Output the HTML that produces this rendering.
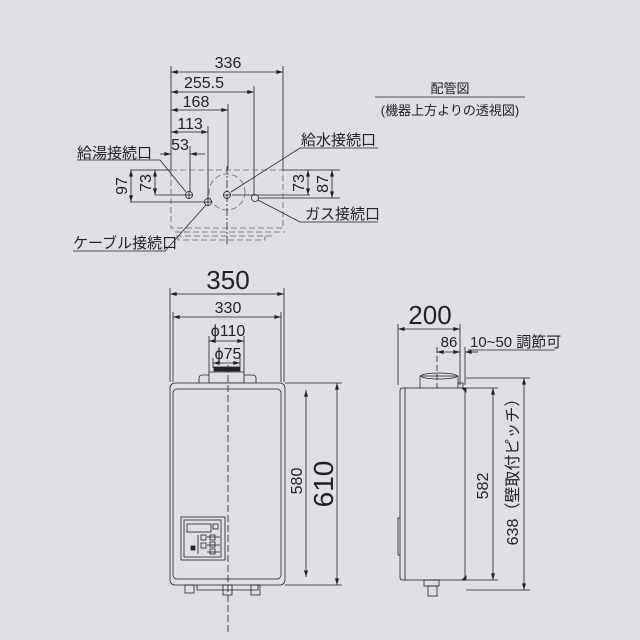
<!DOCTYPE html>
<html><head><meta charset="utf-8"><style>
html,body{margin:0;padding:0;background:#dde1e6;}
svg{display:block}
text{font-family:"Liberation Sans","Noto Sans CJK JP",sans-serif;fill:#222}
</style></head><body>
<svg width="640" height="640" viewBox="0 0 640 640" xmlns="http://www.w3.org/2000/svg">
<defs>
<marker id="a" viewBox="0 0 10 6" refX="10" refY="3" markerWidth="7" markerHeight="4" orient="auto-start-reverse" markerUnits="userSpaceOnUse"><path d="M0,0L10,3L0,6z" fill="#222"/></marker>
</defs>
<rect width="640" height="640" fill="#dde1e6"/>
<g stroke="#222" stroke-width="0.8" fill="none">
<!-- top plan extension lines -->
<line x1="171" y1="66" x2="171" y2="170"/>
<line x1="283" y1="66" x2="283" y2="170"/>
<line x1="254" y1="86" x2="254" y2="195"/>
<line x1="228" y1="104" x2="228" y2="170"/>
<line x1="208" y1="126" x2="208" y2="200"/>
<line x1="190" y1="146" x2="190" y2="192"/>
<line x1="171" y1="72" x2="283" y2="72" marker-start="url(#a)" marker-end="url(#a)"/>
<line x1="171" y1="92" x2="254" y2="92" marker-start="url(#a)" marker-end="url(#a)"/>
<line x1="171" y1="110" x2="228" y2="110" marker-start="url(#a)" marker-end="url(#a)"/>
<line x1="171" y1="132" x2="208" y2="132" marker-start="url(#a)" marker-end="url(#a)"/>
<line x1="160" y1="154" x2="171" y2="154" marker-end="url(#a)"/>
<line x1="205" y1="154" x2="190" y2="154" marker-end="url(#a)"/>
<!-- height lines -->
<line x1="130" y1="170" x2="171" y2="170"/>
<line x1="283" y1="170" x2="340" y2="170"/>
<line x1="155" y1="195" x2="186" y2="195"/>
<line x1="130" y1="202" x2="204" y2="202"/>
<line x1="232" y1="195" x2="310" y2="195"/>
<line x1="259" y1="198" x2="340" y2="198"/>
<line x1="155" y1="170" x2="155" y2="195" marker-start="url(#a)" marker-end="url(#a)"/>
<line x1="131" y1="170" x2="131" y2="202" marker-start="url(#a)" marker-end="url(#a)"/>
<line x1="308" y1="170" x2="308" y2="195" marker-start="url(#a)" marker-end="url(#a)"/>
<line x1="332" y1="170" x2="332" y2="198" marker-start="url(#a)" marker-end="url(#a)"/>
<!-- dashed outline -->
<g stroke="#666" stroke-dasharray="6,3">
<path d="M171,170H283V228H171Z"/>
<path d="M175,232H285M176,236H274"/>
<path d="M178,236V240H265V236"/>
<circle cx="227" cy="192" r="18"/>
</g>
<line x1="227" y1="166" x2="227" y2="244" stroke-dasharray="8,2,2,2"/>
<circle cx="189" cy="195" r="3.5"/><line x1="185" y1="195" x2="193" y2="195"/><line x1="189" y1="191" x2="189" y2="199"/>
<circle cx="227" cy="195" r="3.5"/><line x1="223" y1="195" x2="231" y2="195"/>
<circle cx="208" cy="202" r="3.5"/><line x1="204" y1="202" x2="212" y2="202"/><line x1="208" y1="198" x2="208" y2="206"/>
<circle cx="255" cy="198" r="3.5"/>
<!-- leaders -->
<polyline points="77,160 160,160 186,192" />
<polyline points="378,148 300,148 231,192" />
<polyline points="378,222 300,222 258,200" />
<polyline points="73,251 165,251 206,205" />
<line x1="375" y1="97" x2="525" y2="97"/>
</g>
<g font-size="16">
<text x="228" y="68" text-anchor="middle">336</text>
<text x="204" y="88" text-anchor="middle">255.5</text>
<text x="196" y="107" text-anchor="middle">168</text>
<text x="190" y="129" text-anchor="middle">113</text>
<text x="180" y="150" text-anchor="middle">53</text>
<text x="77" y="158" font-size="15">給湯接続口</text>
<text x="301" y="145" font-size="15">給水接続口</text>
<text x="305" y="219" font-size="15">ガス接続口</text>
<text x="73" y="248" font-size="15">ケーブル接続口</text>
<text transform="translate(127,186) rotate(-90)" text-anchor="middle">97</text>
<text transform="translate(151,183) rotate(-90)" text-anchor="middle">73</text>
<text transform="translate(304,183) rotate(-90)" text-anchor="middle">73</text>
<text transform="translate(328,184) rotate(-90)" text-anchor="middle">87</text>
</g>
<text x="450" y="93" font-size="13" text-anchor="middle">配管図</text>
<text x="450" y="115" font-size="13" text-anchor="middle">(機器上方よりの透視図)</text>

<!-- front view -->
<g stroke="#222" stroke-width="0.8" fill="none">
<line x1="170" y1="288" x2="170" y2="382"/>
<line x1="284" y1="288" x2="284" y2="382"/>
<line x1="173" y1="312" x2="173" y2="382"/>
<line x1="281" y1="312" x2="281" y2="382"/>
<line x1="170" y1="294" x2="284" y2="294" marker-start="url(#a)" marker-end="url(#a)"/>
<line x1="173" y1="317" x2="281" y2="317" marker-start="url(#a)" marker-end="url(#a)"/>
<line x1="209" y1="336" x2="209" y2="372"/><line x1="244" y1="336" x2="244" y2="372"/>
<line x1="213" y1="358" x2="213" y2="368"/><line x1="240" y1="358" x2="240" y2="368"/>
<line x1="209" y1="341" x2="244" y2="341" marker-start="url(#a)" marker-end="url(#a)"/>
<line x1="213" y1="363" x2="240" y2="363" marker-start="url(#a)" marker-end="url(#a)"/>
<rect x="214" y="367" width="26" height="4" fill="#222"/>
<path d="M209,372H244V383H209Z"/>
<path d="M199,383V378Q199,375 203,375H209M244,375H252Q256,375 256,378V383"/>
<rect x="170" y="383" width="115" height="202" rx="5" fill="#dde1e6"/>
<rect x="173" y="389" width="108" height="190" rx="4"/>
<rect x="181" y="517" width="44" height="43"/>
<rect x="184" y="520" width="37" height="37"/>
<rect x="187" y="524" width="24" height="8"/>
<rect x="213" y="524" width="5" height="5"/>
<line x1="198" y1="535" x2="198" y2="554"/>
<rect x="201" y="535" width="5" height="5"/><rect x="201" y="543" width="5" height="5"/>
<rect x="210" y="535" width="5" height="5"/><rect x="210" y="542" width="5" height="5"/><rect x="210" y="549" width="5" height="5"/>
<line x1="207" y1="537" x2="220" y2="537"/><line x1="207" y1="545" x2="220" y2="545"/><line x1="207" y1="552" x2="220" y2="552"/>
<rect x="191" y="546" width="4" height="4" fill="#222"/>
<path d="M197,585V590H258V585"/>
<rect x="185" y="585" width="9" height="8"/><rect x="223" y="585" width="9" height="10"/><rect x="251" y="585" width="9" height="10"/>
<line x1="228" y1="365" x2="228" y2="633" stroke-dasharray="7,3"/>
<line x1="285" y1="383" x2="342" y2="383"/>
<line x1="285" y1="585" x2="342" y2="585"/>
<line x1="306" y1="390" x2="306" y2="577" marker-start="url(#a)" marker-end="url(#a)"/>
<line x1="337" y1="383" x2="337" y2="585" marker-start="url(#a)" marker-end="url(#a)"/>
</g>
<text x="228" y="289" font-size="26" text-anchor="middle">350</text>
<text x="228" y="313" font-size="16" text-anchor="middle">330</text>
<text x="228" y="336" font-size="16" text-anchor="middle">ϕ110</text>
<text x="228" y="359" font-size="16" text-anchor="middle">ϕ75</text>
<text transform="translate(302,481) rotate(-90)" font-size="16" text-anchor="middle">580</text>
<text transform="translate(333,484) rotate(-90)" font-size="28" text-anchor="middle">610</text>

<!-- side view -->
<g stroke="#222" stroke-width="0.8" fill="none">
<line x1="398" y1="324" x2="398" y2="385"/>
<line x1="460" y1="324" x2="460" y2="385"/>
<line x1="398" y1="329" x2="460" y2="329" marker-start="url(#a)" marker-end="url(#a)"/>
<line x1="437" y1="347" x2="437" y2="388" stroke-dasharray="6,3"/>
<line x1="465" y1="347" x2="465" y2="385"/>
<line x1="437" y1="352" x2="460" y2="352" marker-start="url(#a)" marker-end="url(#a)"/>
<line x1="478" y1="352" x2="465" y2="352" marker-end="url(#a)"/>
<line x1="468" y1="350" x2="555" y2="350"/>
<path d="M420,388V376H458V388"/>
<ellipse cx="439" cy="376" rx="18" ry="3"/>
<path d="M458,383H463V388"/>
<rect x="405" y="388" width="60" height="192" fill="#dde1e6"/>
<path d="M405,388H402Q400,388 400,391V577Q400,580 402,580H405"/>
<path d="M400,518H398V555H400"/>
<path d="M462,388H466V392Z" fill="#222"/>
<path d="M462,580H466V576Z" fill="#222"/>
<rect x="424" y="580" width="15" height="6"/><rect x="428" y="586" width="9" height="10"/>
<line x1="466" y1="378" x2="530" y2="378"/>
<line x1="466" y1="388" x2="498" y2="388"/>
<line x1="466" y1="580" x2="498" y2="580"/>
<line x1="466" y1="590" x2="530" y2="590"/>
<line x1="493" y1="388" x2="493" y2="580" marker-start="url(#a)" marker-end="url(#a)"/>
<line x1="524" y1="378" x2="524" y2="590" marker-start="url(#a)" marker-end="url(#a)"/>
</g>
<text x="430" y="324" font-size="26" text-anchor="middle">200</text>
<text x="449" y="347" font-size="15" text-anchor="middle">86</text>
<text x="470" y="347" font-size="15">10~50 調節可</text>
<text transform="translate(488,486) rotate(-90)" font-size="16" text-anchor="middle">582</text>
<text transform="translate(518,468) rotate(-90)" font-size="16" text-anchor="middle">638（壁取付ピッチ）</text>
</svg>
</body></html>
